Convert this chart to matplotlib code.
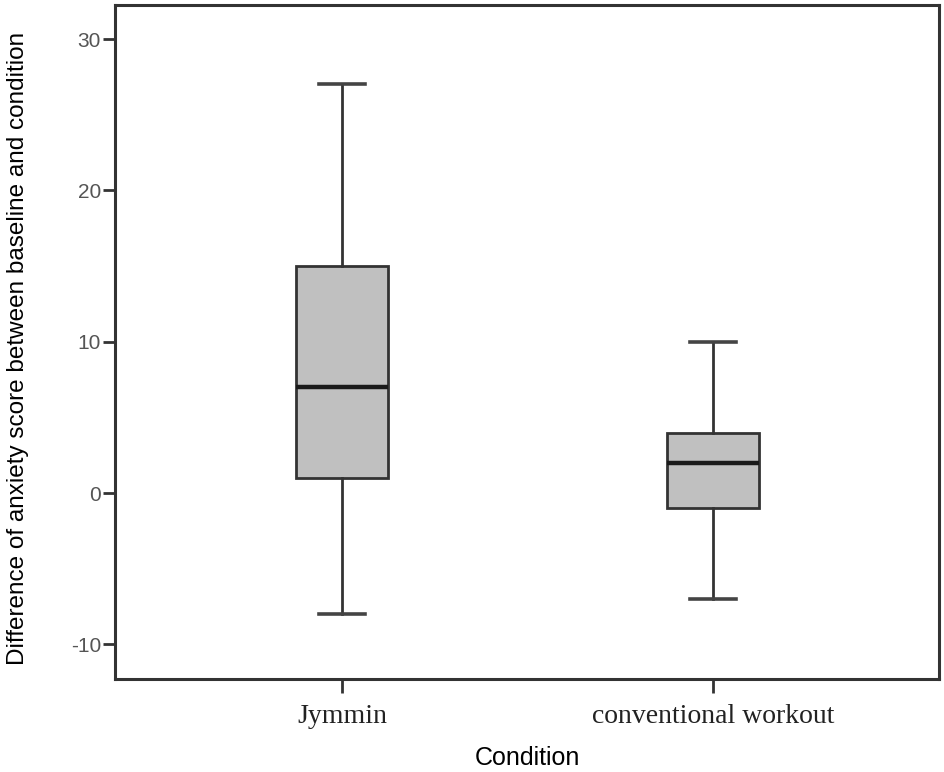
import numpy as np
import matplotlib.pyplot as plt

# box statistics
conditions = ["Jymmin", "conventional workout"]
whisker_low = [-8, -7]
q1 = [1, -1]
medians = [7, 2]
q3 = [15, 4]
whisker_high = [27, 10]

y_ticks = [-10, 0, 10, 20, 30]

stats = []
for i, name in enumerate(conditions):
    stats.append({
        "label": name,
        "whislo": whisker_low[i],
        "q1": q1[i],
        "med": medians[i],
        "q3": q3[i],
        "whishi": whisker_high[i],
        "fliers": [],
    })

fig = plt.figure(figsize=(9.45, 7.72), dpi=100)
ax = fig.add_axes([0.1217, 0.1205, 0.872, 0.873])

edge = "#333333"
ax.bxp(stats, positions=[1, 2], widths=0.25, patch_artist=True,
       showfliers=False,
       boxprops=dict(facecolor="#c0c0c0", edgecolor=edge, linewidth=2.0),
       medianprops=dict(color="#1a1a1a", linewidth=3.2),
       whiskerprops=dict(color=edge, linewidth=2.0),
       capprops=dict(color="#444444", linewidth=2.6),
       capwidths=0.125)

ax.set_xlim(0.388, 2.609)
ax.set_ylim(-12.28, 32.25)
ax.set_yticks(y_ticks)
ax.set_yticklabels([str(v) for v in y_ticks], fontsize=15, color="#555555",
                   family=["Liberation Sans", "DejaVu Sans"])
ax.set_xticks([1, 2])
ax.set_xticklabels(conditions, fontsize=20, color="#222222",
                   family=["Liberation Serif", "DejaVu Serif"])

for side in ["left", "right", "top", "bottom"]:
    ax.spines[side].set_linewidth(2.2)
    ax.spines[side].set_color(edge)

ax.tick_params(axis="y", length=9, width=2.0, color=edge, pad=1)
ax.tick_params(axis="x", length=10, width=2.0, color=edge, pad=8)

ax.set_ylabel("Difference of anxiety score between baseline and condition",
              fontsize=17.5, family=["Liberation Sans", "DejaVu Sans"])
ax.yaxis.set_label_coords(-0.104, 0.49)
ax.set_xlabel("Condition", fontsize=18, family=["Liberation Sans", "DejaVu Sans"],
              labelpad=12)

fig.savefig("out.png", dpi=100)
